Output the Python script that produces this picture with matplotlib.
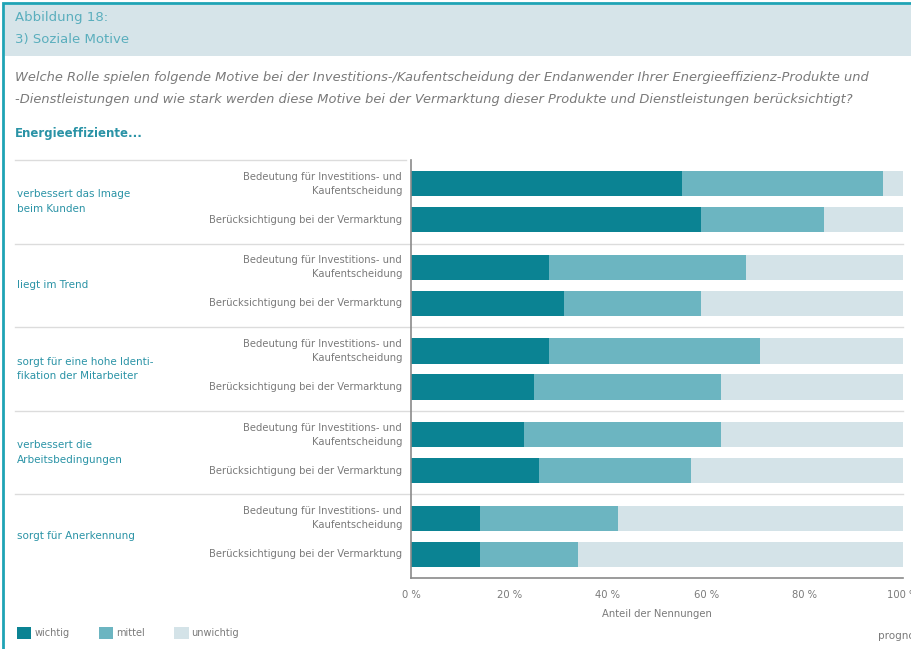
"""
Soziale Motive: gestapeltes Balkendiagramm (Anteil der Nennungen)
"""

import numpy as np
import matplotlib
matplotlib.use("Agg")
import matplotlib.pyplot as plt
from matplotlib.patches import Rectangle, Patch

# Daten
motive = [
    "verbessert das Image\nbeim Kunden",
    "liegt im Trend",
    "sorgt für eine hohe Identi-\nfikation der Mitarbeiter",
    "verbessert die\nArbeitsbedingungen",
    "sorgt für Anerkennung",
]
aspekte = [
    "Bedeutung für Investitions- und\nKaufentscheidung",
    "Berücksichtigung bei der Vermarktung",
]
kategorien = ["wichtig", "mittel", "unwichtig"]

# je Motiv: [Bedeutung, Berücksichtigung]
wichtig = [[55, 59], [28, 31], [28, 25], [23, 26], [14, 14]]
mittel = [[41, 25], [40, 28], [43, 38], [40, 31], [28, 20]]
unwichtig = [[4, 16], [32, 41], [29, 37], [37, 43], [58, 66]]

x_ticks = [0, 20, 40, 60, 80, 100]
x_ticklabels = ["0 %", "20 %", "40 %", "60 %", "80 %", "100 %"]

farben = ["#0b8393", "#6cb5c1", "#d4e3e8"]
teal_text = "#2a93a6"
grau_text = "#7a7a7a"

W, H = 911, 649
fig = plt.figure(figsize=(W / 100, H / 100), dpi=100)
fig.patch.set_facecolor("white")


def fx(px):
    return px / W


def fy(py):
    return 1 - py / H


# Rahmen und Kopfzeile
fig.patches.append(Rectangle((fx(3), fy(H + 10)), fx(W + 10), fy(3) - fy(H + 10),
                             transform=fig.transFigure, fill=False,
                             edgecolor="#1fa3b5", linewidth=2))
fig.patches.append(Rectangle((fx(5), fy(56)), fx(W), fy(5) - fy(56),
                             transform=fig.transFigure, facecolor="#d6e4e9",
                             edgecolor="none"))
fig.text(fx(15), fy(18), "Abbildung 18:", color="#5aaebd", fontsize=9.5, va="center")
fig.text(fx(15), fy(40), "3) Soziale Motive", color="#5aaebd", fontsize=9.5, va="center")

frage = ["Welche Rolle spielen folgende Motive bei der Investitions-/Kaufentscheidung der Endanwender Ihrer Energieeffizienz-Produkte und",
         "-Dienstleistungen und wie stark werden diese Motive bei der Vermarktung dieser Produkte und Dienstleistungen berücksichtigt?"]
fig.text(fx(15), fy(77), frage[0], color=grau_text, fontsize=9.4, style="italic", va="center")
fig.text(fx(15), fy(99), frage[1], color=grau_text, fontsize=9.4, style="italic", va="center")
fig.text(fx(15), fy(133), "Energieeffiziente...", color=teal_text, fontsize=8.5,
         fontweight="bold", va="center")

# Diagrammbereich
left, right, top, bottom = 411, 903, 160, 578
ax = fig.add_axes([fx(left), fy(bottom), fx(right - left), fy(top) - fy(bottom)])

n = len(motive)
offset = 0.215
hoehe = 0.30
for i in range(n):
    for j in range(2):
        y = i + 0.5 + (2 * j - 1) * offset
        werte = [wichtig[i][j], mittel[i][j], unwichtig[i][j]]
        start = 0
        for k, w in enumerate(werte):
            ax.barh(y, w, left=start, height=hoehe, color=farben[k], linewidth=0)
            start += w
        ax.text(-0.018, y, aspekte[j], transform=ax.get_yaxis_transform(),
                ha="right", va="center", fontsize=7.2, color=grau_text,
                linespacing=1.5)
    ax.text(-0.8, i + 0.5, motive[i], transform=ax.get_yaxis_transform(),
            ha="left", va="center", fontsize=7.5, color=teal_text, linespacing=1.6)
    # Trennlinie zwischen den Motiven
    if i < n - 1:
        ax.axhline(i + 1, xmin=-0.805, xmax=1.0, color="#dcdcdc", linewidth=1,
                   clip_on=False)
ax.axhline(0, xmin=-0.805, xmax=-0.01, color="#dcdcdc", linewidth=1, clip_on=False)

ax.set_xlim(0, 100)
ax.set_ylim(n, 0)
ax.set_xticks(x_ticks)
ax.set_xticklabels(x_ticklabels, fontsize=7.2, color=grau_text)
ax.set_yticks([])
ax.tick_params(axis="x", length=0, pad=9)
for sp in ["top", "right"]:
    ax.spines[sp].set_visible(False)
for sp in ["left", "bottom"]:
    ax.spines[sp].set_color("#8a8a8a")
    ax.spines[sp].set_linewidth(1.2)
ax.set_xlabel("Anteil der Nennungen", fontsize=7.2, color=grau_text, labelpad=6)

# Legende
handles = [Patch(facecolor=c, edgecolor="none") for c in farben]
fig.legend(handles, kategorien, loc="center left", bbox_to_anchor=(fx(8), fy(633)),
           ncol=3, frameon=False, fontsize=7, labelcolor=grau_text,
           handlelength=1.5, handleheight=1.5, handletextpad=0.3, columnspacing=3.0)

fig.text(fx(878), fy(636), "prognos", color=grau_text, fontsize=7.5, va="center")

fig.savefig("out.png", dpi=100)
